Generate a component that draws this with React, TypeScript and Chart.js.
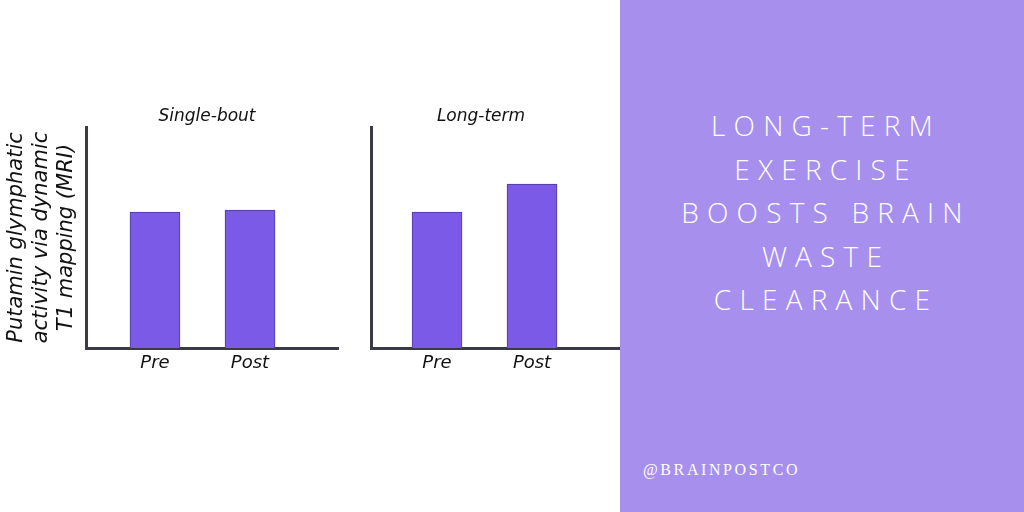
import React, { useEffect, useRef } from "react";
import { Chart, registerables } from "chart.js";

Chart.register(...registerables);

const categories = ["Pre", "Post"];
const singleBoutValues = [61.5, 62.4];
const longTermValues = [61.5, 74.2];
const panelTitles = ["Single-bout", "Long-term"];
const yAxisLabel = ["Putamin glymphatic", "activity via dynamic", "T1 mapping (MRI)"];
const headlineLines = ["LONG-TERM", "EXERCISE", "BOOSTS BRAIN", "WASTE", "CLEARANCE"];
const handle = "@BRAINPOSTCO";

const HAND_FONT = '"DejaVu Sans", "Noto Sans", sans-serif';
const BAR_COLOR = "#7b5ae8";
const BAR_BORDER = "#4b3a9a";
const AXIS_COLOR = "#3b3b48";

type PanelProps = {
  values: number[];
  title: string;
  showYLabel: boolean;
  leftWidth: number;
  rightWidth: number;
  xMin: number;
  xMax: number;
  style: React.CSSProperties;
};

function Panel({ values, title, showYLabel, leftWidth, rightWidth, xMin, xMax, style }: PanelProps) {
  const ref = useRef<HTMLCanvasElement | null>(null);
  useEffect(() => {
    if (!ref.current) return;
    const chart = new Chart(ref.current, {
      type: "bar",
      data: {
        datasets: [
          {
            data: values.map((v, i) => ({ x: i, y: v })),
            backgroundColor: BAR_COLOR,
            borderColor: BAR_BORDER,
            borderWidth: 1,
            barThickness: 50,
            yAxisID: "y",
          },
        ],
      },
      options: {
        animation: false,
        responsive: false,
        maintainAspectRatio: false,
        layout: { padding: 0 },
        plugins: {
          legend: { display: false },
          tooltip: { enabled: false },
          title: {
            display: true,
            text: title,
            color: "#111",
            font: { family: HAND_FONT, size: 17, style: "italic", weight: "normal", lineHeight: 1.2 },
            padding: { top: 106, bottom: 0.6 },
          },
        },
        scales: {
          x: {
            type: "linear",
            offset: false,
            min: xMin,
            max: xMax,
            grid: { display: false, offset: false },
            border: { display: true, color: AXIS_COLOR, width: 3 },
            afterBuildTicks: (scale: any) => {
              scale.ticks = categories.map((_, i) => ({ value: i }));
            },
            afterFit: (scale: any) => {
              scale.height = 52;
            },
            ticks: {
              autoSkip: false,
              maxRotation: 0,
              padding: -3,
              color: "#111",
              font: { family: HAND_FONT, size: 18, style: "italic" },
              callback: (v: any) => categories[Number(v)] ?? "",
            },
          },
          y: {
            position: "left",
            min: 0,
            max: 100,
            grid: { display: false },
            border: { display: true, color: AXIS_COLOR, width: 3 },
            ticks: { display: false },
            title: {
              display: showYLabel,
              text: yAxisLabel,
              color: "#111",
              font: { family: HAND_FONT, size: 21, style: "italic", lineHeight: 1.17 },
              padding: { top: 4.7, bottom: 0 },
            },
            afterFit: (scale: any) => {
              scale.width = leftWidth;
            },
          },
          yRight: {
            position: "right",
            display: true,
            grid: { display: false },
            border: { display: false },
            ticks: { display: false },
            afterFit: (scale: any) => {
              scale.width = rightWidth;
            },
          },
        },
      },
    } as any);
    return () => chart.destroy();
  }, []);
  return (
    <canvas
      ref={ref}
      width={style.width as number}
      height={style.height as number}
      style={{ position: "absolute", ...style }}
    />
  );
}

export default function App() {
  return (
    <div
      style={{
        position: "fixed",
        left: 0,
        top: 0,
        width: 1024,
        height: 512,
        background: "#ffffff",
        overflow: "hidden",
      }}
    >
      <Panel
        values={singleBoutValues}
        title={panelTitles[0]}
        showYLabel={true}
        leftWidth={86}
        rightWidth={76}
        xMin={-0.726}
        xMax={1.926}
        style={{ left: 0, top: 0, width: 414, height: 400 }}
      />
      <Panel
        values={longTermValues}
        title={panelTitles[1]}
        showYLabel={false}
        leftWidth={41}
        rightWidth={12}
        xMin={-0.695}
        xMax={1.926}
        style={{ left: 330, top: 0, width: 302, height: 400 }}
      />
      <div
        style={{
          position: "absolute",
          left: 620,
          top: 0,
          width: 404,
          height: 512,
          background: "#a78fee",
          zIndex: 2,
        }}
      >
        <div
          style={{
            position: "absolute",
            left: 0,
            top: 104,
            width: 404,
            textAlign: "center",
            color: "#ffffff",
            fontFamily: '"Open Sans", "Noto Sans", sans-serif',
            fontWeight: 300,
            fontSize: 28,
            lineHeight: "43.5px",
            letterSpacing: 8.2,
            paddingLeft: 8,
            boxSizing: "border-box",
          }}
        >
          {headlineLines.map((l) => (
            <div key={l}>{l}</div>
          ))}
        </div>
        <div
          style={{
            position: "absolute",
            left: 23,
            top: 458,
            color: "#ffffff",
            fontFamily: '"Liberation Serif", "DejaVu Serif", serif',
            fontSize: 16,
            lineHeight: "24px",
            letterSpacing: 2.6,
          }}
        >
          {handle}
        </div>
      </div>
    </div>
  );
}
